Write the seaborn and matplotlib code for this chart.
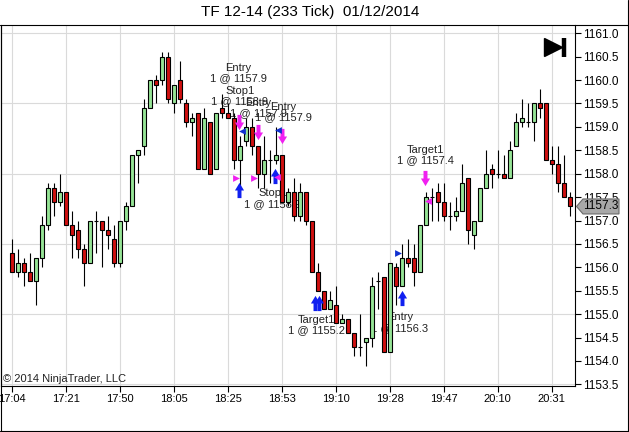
import matplotlib.pyplot as plt
import numpy as np
import seaborn as sns
from matplotlib.path import Path
from matplotlib.lines import Line2D
from matplotlib.patches import Polygon
from matplotlib.transforms import IdentityTransform

# OHLC per tick bar (233 tick)
opens = [1156.3, 1155.9, 1156.1, 1155.9, 1155.7, 1156.2, 1156.9, 1157.7, 1157.4, 1157.6,
         1156.9, 1156.8, 1156.4, 1156.1, 1157.0, 1157.0, 1156.8, 1156.6, 1156.1, 1157.0,
         1157.3, 1158.4, 1158.6, 1159.4, 1160.0, 1160.0, 1160.5, 1159.5, 1160.0, 1159.5,
         1159.1, 1159.3, 1158.1, 1159.1, 1158.1, 1159.4, 1159.3, 1159.2, 1158.3, 1158.7,
         1159.0, 1158.6, 1158.0, 1158.3, 1158.3, 1158.4, 1157.4, 1157.6, 1157.1, 1157.6,
         1157.0, 1155.9, 1155.5, 1155.1, 1155.2, 1154.8, 1154.9, 1154.6, 1154.3, 1154.4,
         1154.5, 1155.7, 1155.8, 1154.2, 1156.0, 1155.6, 1156.2, 1156.2, 1155.9, 1156.9,
         1157.5, 1157.6, 1157.4, 1157.1, 1157.1, 1157.2, 1157.9, 1156.7, 1157.0, 1157.7,
         1158.1, 1158.0, 1158.0, 1157.9, 1158.6, 1159.1, 1159.1, 1159.1, 1159.5, 1159.5,
         1158.3, 1158.2, 1157.8, 1157.5]
highs = [1156.6, 1156.4, 1156.2, 1156.3, 1156.2, 1157.1, 1157.8, 1157.8, 1158.0, 1157.6,
         1157.2, 1157.0, 1156.5, 1157.0, 1157.2, 1157.0, 1157.1, 1156.9, 1157.0, 1157.4,
         1158.4, 1158.5, 1159.6, 1160.0, 1160.1, 1160.6, 1160.6, 1159.9, 1160.4, 1159.6,
         1159.3, 1159.3, 1159.4, 1159.1, 1159.3, 1159.7, 1159.5, 1159.3, 1158.8, 1159.2,
         1159.2, 1158.6, 1158.8, 1158.5, 1159.0, 1158.4, 1157.7, 1157.9, 1157.8, 1157.6,
         1157.0, 1156.1, 1155.5, 1155.5, 1155.6, 1155.0, 1154.9, 1154.6, 1155.0, 1154.5,
         1155.8, 1155.9, 1155.8, 1156.1, 1156.1, 1156.5, 1156.6, 1156.5, 1156.9, 1157.6,
         1157.7, 1157.8, 1157.8, 1157.4, 1157.5, 1158.2, 1157.9, 1157.0, 1157.7, 1158.5,
         1158.2, 1158.5, 1158.4, 1158.7, 1159.3, 1159.6, 1159.5, 1159.5, 1159.8, 1159.5,
         1158.6, 1158.6, 1158.4, 1157.6]
lows = [1155.9, 1155.8, 1155.6, 1155.7, 1155.2, 1156.0, 1156.8, 1157.1, 1157.3, 1156.9,
        1156.2, 1156.2, 1155.6, 1156.1, 1156.3, 1156.0, 1156.4, 1156.0, 1156.0, 1156.8,
        1157.3, 1157.8, 1158.4, 1159.4, 1159.5, 1159.9, 1159.5, 1159.3, 1159.5, 1159.0,
        1158.8, 1158.1, 1158.1, 1158.0, 1158.1, 1159.2, 1159.2, 1158.1, 1157.7, 1158.6,
        1158.4, 1157.7, 1157.7, 1157.8, 1158.2, 1157.4, 1157.3, 1157.0, 1157.0, 1156.9,
        1155.9, 1155.5, 1155.1, 1155.1, 1154.8, 1154.8, 1154.6, 1154.1, 1154.1, 1153.9,
        1154.3, 1155.1, 1154.2, 1154.2, 1155.2, 1155.6, 1156.0, 1155.6, 1155.9, 1156.9,
        1157.0, 1157.0, 1157.0, 1156.8, 1157.0, 1157.2, 1156.5, 1156.4, 1157.0, 1157.7,
        1157.7, 1157.9, 1157.9, 1157.9, 1158.6, 1159.0, 1159.0, 1158.7, 1159.2, 1158.3,
        1158.0, 1157.6, 1157.5, 1157.1]
closes = [1155.9, 1156.1, 1155.9, 1155.7, 1156.2, 1156.9, 1157.7, 1157.4, 1157.6, 1156.9,
          1156.7, 1156.4, 1156.1, 1157.0, 1157.0, 1156.8, 1156.7, 1156.1, 1157.0, 1157.3,
          1158.4, 1158.5, 1159.4, 1160.0, 1159.9, 1160.5, 1159.6, 1159.9, 1159.6, 1159.1,
          1159.2, 1158.1, 1159.2, 1158.0, 1159.3, 1159.3, 1159.2, 1158.3, 1158.6, 1159.0,
          1158.6, 1158.0, 1158.3, 1158.3, 1158.4, 1157.4, 1157.6, 1157.1, 1157.6, 1157.0,
          1155.9, 1155.5, 1155.1, 1155.3, 1154.8, 1154.9, 1154.6, 1154.3, 1154.3, 1154.5,
          1155.6, 1155.7, 1154.2, 1156.1, 1155.6, 1156.2, 1156.1, 1155.9, 1156.9, 1157.5,
          1157.5, 1157.4, 1157.1, 1157.1, 1157.2, 1157.8, 1156.8, 1157.0, 1157.7, 1158.0,
          1158.0, 1158.0, 1157.9, 1158.5, 1159.1, 1159.2, 1159.1, 1159.5, 1159.4, 1158.3,
          1158.2, 1157.8, 1157.5, 1157.3]

time_labels = ['17:04', '17:21', '17:50', '18:05', '18:25', '18:53',
               '19:10', '19:28', '19:47', '20:10', '20:31']
bars_per_label = 9
price_ticks = np.arange(1153.5, 1161.01, 0.5)
grid_prices = np.arange(1153.5, 1161.01, 1.5)

# executions: arrows and fill triangles (bar index, price)
sell_x = [37.9, 41.0, 45.0, 68.9]
sell_y = [1159.11, 1158.90, 1158.81, 1157.90]
buy_x = [37.9, 43.9, 50.55, 51.2, 65.0]
buy_y = [1157.65, 1157.96, 1155.23, 1155.23, 1155.34]
buy_fill_left_x = [38.33, 44.43]
buy_fill_left_y = [1158.92, 1158.93]
buy_fill_right_x = [64.43]
buy_fill_right_y = [1156.30]
sell_fill_right_x = [37.38, 40.43]
sell_fill_right_y = [1157.90, 1157.90]
sell_fill_left_x = [69.43, 44.27]
sell_fill_left_y = [1157.42, 1157.94]

note_texts = ['Entry\n1 @ 1157.9', 'Stop1\n1 @ 1158.9', 'Entry\n1 @ 1157.9',
              'Entry\n1 @ 1157.9', 'Stop1\n1 @ 1158.9', 'Target1\n1 @ 1155.2',
              'Entry\n1 @ 1156.3', 'Target1\n1 @ 1157.4']
note_x = [37.72, 38.05, 41.05, 45.22, 43.55, 50.8, 64.72, 68.88]
note_y = [1160.15, 1159.66, 1159.41, 1159.31, 1157.47, 1154.76, 1154.82, 1158.40]

sns.set_theme(style='ticks')
plt.rcParams['font.family'] = ['Liberation Sans', 'DejaVu Sans']

W, H = 629, 432
fig = plt.figure(figsize=(W / 100, H / 100), dpi=100)
ax = fig.add_axes([1 / W, 1 - 386 / H, 574 / W, 361 / H])

idx = np.arange(len(closes))
o = np.array(opens)
c = np.array(closes)
colors = np.where(c > o, '#96e496', np.where(c < o, '#d01010', 'black'))

# grid
for g in range(0, len(closes), bars_per_label):
    ax.axvline(g, color='#dadada', lw=0.8, zorder=0)
for gp in grid_prices:
    ax.axhline(gp, color='#dadada', lw=0.8, zorder=0)

# notes sit under the candles
for t, x, y in zip(note_texts, note_x, note_y):
    ax.text(x, y, t, ha='center', va='center', fontsize=8, color='#222222',
            linespacing=1.05, zorder=2)

ax.vlines(idx, lows, highs, color='black', lw=0.8, zorder=3)
ax.bar(idx, c - o, bottom=o, width=0.7, color=colors, edgecolor='black',
       linewidth=0.8, zorder=4)

# arrow marker
up = Path([(-0.13, -0.5), (0.13, -0.5), (0.13, 0.0), (0.3, 0.0), (0, 0.5),
           (-0.3, 0.0), (-0.13, 0.0), (-0.13, -0.5)], closed=True)
down = Path([(x, -y) for x, y in up.vertices], closed=True)

sns.scatterplot(x=sell_x, y=sell_y, marker=down, s=120, color='#f020f0',
                linewidth=0, ax=ax, zorder=5)
sns.scatterplot(x=buy_x, y=buy_y, marker=up, s=120, color='#1020f0',
                linewidth=0, ax=ax, zorder=5)
sns.scatterplot(x=buy_fill_left_x, y=buy_fill_left_y, marker='<', s=24,
                color='#1030d0', linewidth=0, ax=ax, zorder=5)
sns.scatterplot(x=buy_fill_right_x, y=buy_fill_right_y, marker='>', s=24,
                color='#1030d0', linewidth=0, ax=ax, zorder=5)
sns.scatterplot(x=sell_fill_right_x, y=sell_fill_right_y, marker='>', s=24,
                color='#f020f0', linewidth=0, ax=ax, zorder=5)
sns.scatterplot(x=sell_fill_left_x, y=sell_fill_left_y, marker='<', s=24,
                color='#f020f0', linewidth=0, ax=ax, zorder=5)

ax.set_xlim(-1.783, 93.883)
ax.set_ylim(1153.464, 1161.177)

ax.set_xticks(idx[::bars_per_label][:len(time_labels)])
ax.set_xticklabels(time_labels, fontsize=8, color='black')
ax.yaxis.tick_right()
ax.set_yticks(price_ticks)
ax.set_yticklabels([f'{v:.1f}' for v in price_ticks], fontsize=8.5, color='black')
ax.tick_params(axis='x', length=4, width=0.8, color='black', pad=2, direction='out')
ax.tick_params(axis='y', length=4, width=0.8, color='black', pad=1.5, direction='out')
ax.set_xlabel('')
ax.set_ylabel('')
for side in ['bottom', 'right', 'left']:
    ax.spines[side].set_color('black')
    ax.spines[side].set_linewidth(0.8)
ax.spines['top'].set_visible(False)

# copyright and "go to end" glyph
ax.text(0.0035, 0.019, '\u00a9 2014 NinjaTrader, LLC', transform=ax.transAxes,
        fontsize=8, color='#222222', ha='left', va='center')
ax.plot([0.9625], [0.939], marker='>', markersize=13, color='black',
        transform=ax.transAxes, clip_on=False, zorder=6)
ax.plot([0.9815, 0.9815], [0.912, 0.965], color='black', lw=3.2,
        transform=ax.transAxes, solid_capstyle='butt', zorder=6)

# last price tag
fig.canvas.draw()
yc = ax.transData.transform((0, closes[-1]))[1]
x0 = ax.transAxes.transform((1, 0))[0]
tag = Polygon([(x0 + 1.5, yc), (x0 + 8, yc + 7.5), (x0 + 44, yc + 7.5),
               (x0 + 44, yc - 7.5), (x0 + 8, yc - 7.5)], closed=True,
              transform=IdentityTransform(), facecolor='#a8a8a8',
              edgecolor='#6a6a6a', lw=0.8, zorder=10)
fig.add_artist(tag)
fig.text((x0 + 26) / W, yc / H, f'{closes[-1]:.1f}', fontsize=8.5,
         ha='center', va='center', color='black', zorder=11)

# title and frame
fig.text(310.5 / W, 1 - 12.2 / H, 'TF 12-14 (233 Tick)  01/12/2014',
         ha='center', va='center', fontsize=11, color='black')
fig.add_artist(Line2D([0, 1], [1 - 25 / H] * 2, transform=fig.transFigure,
                      color='black', lw=0.8))
fig.add_artist(Line2D([0.5 / W] * 2, [0, 1 - 25 / H], transform=fig.transFigure,
                      color='black', lw=0.8))
fig.add_artist(Line2D([627.7 / W] * 2, [0, 1], transform=fig.transFigure,
                      color='black', lw=0.8))
fig.add_artist(Line2D([0, 1], [1 - 430.7 / H] * 2, transform=fig.transFigure,
                      color='black', lw=0.8))

fig.savefig('out.png', dpi=100)
